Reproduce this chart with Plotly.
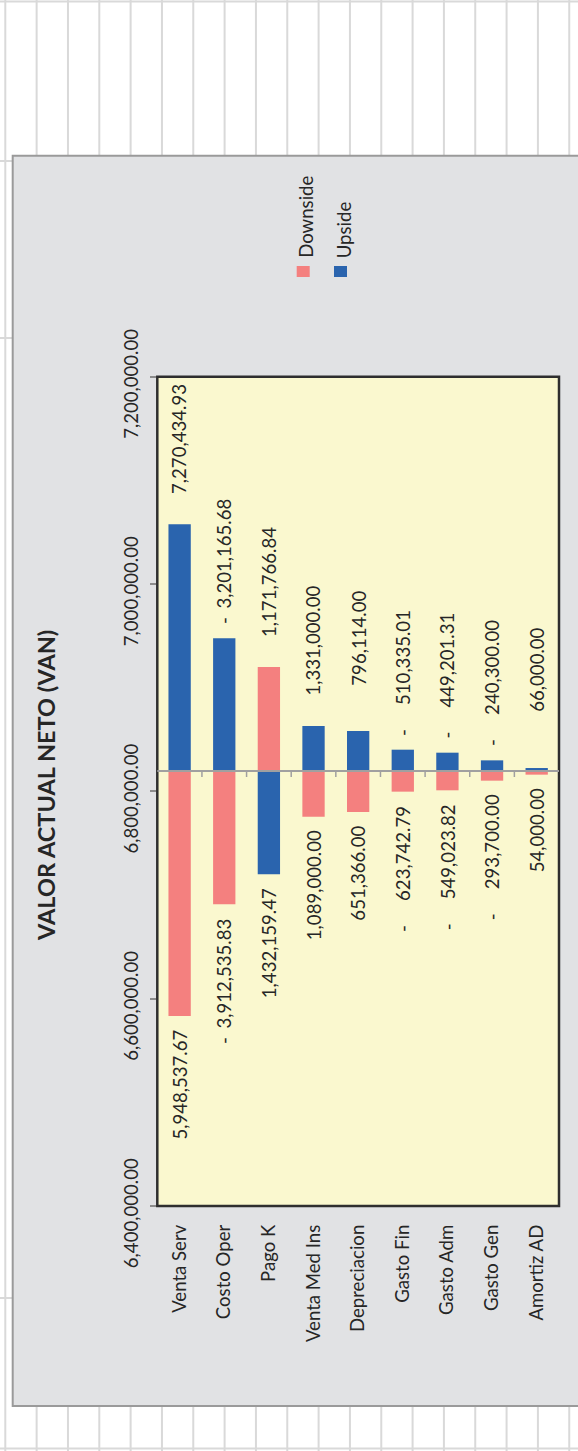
import plotly.graph_objects as go

# ---- data -------------------------------------------------------------
CATEGORIES = ["Venta Serv", "Costo Oper", "Pago K", "Venta Med Ins", "Depreciacion",
              "Gasto Fin", "Gasto Adm", "Gasto Gen", "Amortiz AD"]

# NPV (VAN) at the base case and under each sensitivity scenario
BASE_VAN = 6_819_600
VAN_DOWNSIDE = [6_583_300, 6_691_000, 6_919_900, 6_775_600, 6_780_100,
                6_799_700, 6_801_000, 6_810_300, 6_816_100]
VAN_UPSIDE = [7_057_600, 6_947_600, 6_720_000, 6_863_000, 6_858_200,
              6_840_200, 6_837_300, 6_829_900, 6_822_500]

# input value of each driver in the scenario (shown next to the bar)
INPUT_DOWNSIDE = [5_948_537.67, -3_912_535.83, 1_171_766.84, 1_089_000.00, 651_366.00,
                  -623_742.79, -549_023.82, -293_700.00, 54_000.00]
INPUT_UPSIDE = [7_270_434.93, -3_201_165.68, 1_432_159.47, 1_331_000.00, 796_114.00,
                -510_335.01, -449_201.31, -240_300.00, 66_000.00]

VALUE_TICKS = [6_400_000, 6_600_000, 6_800_000, 7_000_000, 7_200_000]
TITLE = "VALOR ACTUAL NETO (VAN)"

# ---- styling ----------------------------------------------------------
W, H = 578, 1451
FONT = "Lato"
FS = 18.6
TXT = "#262626"
PINK = "#F4807F"
BLUE = "#2A64AE"
PLOT_BG = "#FAF8CF"
CHART_BG = "#E1E2E4"
CELL_LINE = "#D9D9D9"


def px(x):
    return x / W


def py(y):
    return 1 - y / H


fig = go.Figure()

series = [("Downside", VAN_DOWNSIDE, INPUT_DOWNSIDE, PINK),
          ("Upside", VAN_UPSIDE, INPUT_UPSIDE, BLUE)]

for name, van, _, color in series:
    fig.add_trace(go.Bar(
        x=CATEGORIES,
        y=[v - BASE_VAN for v in van],
        base=BASE_VAN,
        name=name,
        marker=dict(color=color, line=dict(width=0)),
        showlegend=False,
        hoverinfo="skip",
    ))

shapes = []

# worksheet cell grid behind the chart
for k in range(19):
    x = 5.3 + 31.33 * k
    shapes.append(dict(type="line", xref="paper", yref="paper",
                       x0=px(x), x1=px(x), y0=0, y1=1,
                       line=dict(color=CELL_LINE, width=2), layer="below"))
for y in [1.5, 161, 338, 1298, 1448.5]:
    shapes.append(dict(type="line", xref="paper", yref="paper",
                       x0=0, x1=1, y0=py(y), y1=py(y),
                       line=dict(color=CELL_LINE, width=2), layer="below"))

# chart area
shapes.append(dict(type="rect", xref="paper", yref="paper",
                   x0=px(12.7), x1=px(640), y0=py(155.7), y1=py(1406),
                   fillcolor=CHART_BG, line=dict(color="#9A9A9A", width=2),
                   layer="below"))

# plot area
shapes.append(dict(type="rect", xref="x domain", yref="y domain",
                   x0=0, x1=1, y0=0, y1=1,
                   fillcolor=PLOT_BG, line=dict(color="#2E2E2E", width=2.5),
                   layer="below"))

# category axis crossing at the base NPV, with boundary ticks
shapes.append(dict(type="line", xref="x domain", yref="y",
                   x0=0, x1=1, y0=BASE_VAN, y1=BASE_VAN,
                   line=dict(color="#A0A0A0", width=2), layer="above"))
for k in range(1, len(CATEGORIES)):
    shapes.append(dict(type="line", xref="x", yref="y", ysizemode="pixel",
                       yanchor=BASE_VAN, x0=k - 0.5, x1=k - 0.5, y0=0, y1=-6,
                       line=dict(color="#A0A0A0", width=1.5), layer="above"))

# legend keys
for (name, _, _, color), x0 in zip(series, [296.7, 334.0]):
    shapes.append(dict(type="rect", xref="paper", yref="paper",
                       x0=px(x0), x1=px(x0 + 13), y0=py(277), y1=py(266),
                       fillcolor=color, line=dict(width=0)))

annotations = []

# title
annotations.append(dict(text=f"<b>{TITLE}</b>", xref="paper", yref="paper",
                        x=px(46), y=py(786), xanchor="center", yanchor="middle",
                        textangle=-90, showarrow=False,
                        font=dict(family=FONT, size=23.5, color=TXT)))

# legend labels
for (name, _, _, _), xc in zip(series, [306.5, 343.5]):
    annotations.append(dict(text=name, xref="paper", yref="paper",
                            x=px(xc), y=py(259.3), xanchor="center", yanchor="bottom",
                            textangle=-90, showarrow=False, borderpad=0,
                            font=dict(family=FONT, size=FS, color=TXT)))

# scenario input values beside each bar (accounting style: sign at the bar side
# for the upper label, number at the bar side for the lower label)
NEAR, FAR = 13, 141
for name, van, inputs, _ in series:
    for cat, v, val in zip(CATEGORIES, van, inputs):
        up = v >= BASE_VAN
        num = f"{abs(val):,.2f}"
        lab = dict(xref="x", yref="y", x=cat, y=v, xanchor="center",
                   textangle=-90, showarrow=False, borderpad=0,
                   font=dict(family=FONT, size=FS, color=TXT))
        if up:
            annotations.append(dict(lab, text=num, yanchor="top", yshift=FAR))
            if val < 0:
                annotations.append(dict(lab, text="-", yanchor="bottom", yshift=NEAR))
        else:
            annotations.append(dict(lab, text=num, yanchor="top", yshift=-NEAR))
            if val < 0:
                annotations.append(dict(lab, text="-", yanchor="bottom", yshift=-FAR))

fig.update_layout(
    width=W, height=H,
    autosize=False,
    margin=dict(l=0, r=0, t=0, b=0, pad=0, autoexpand=False),
    paper_bgcolor="white",
    plot_bgcolor=PLOT_BG,
    barmode="overlay",
    bargap=0.5,
    showlegend=False,
    shapes=shapes,
    annotations=annotations,
    font=dict(family=FONT, size=FS, color=TXT),
    xaxis=dict(
        domain=[px(157.3), px(559)],
        type="category",
        tickangle=-90,
        ticks="",
        automargin=False,
        showline=False, showgrid=False, zeroline=False,
        tickfont=dict(family=FONT, size=FS, color=TXT),
        ticklabelstandoff=14,
        fixedrange=True,
    ),
    yaxis=dict(
        domain=[py(1206), py(376.7)],
        range=[VALUE_TICKS[0], VALUE_TICKS[-1]],
        tickvals=VALUE_TICKS,
        tickformat=",.2f",
        tickangle=-90,
        ticks="outside", ticklen=6, tickwidth=1.5, tickcolor="#8C8C8C",
        ticklabelstandoff=5,
        ticklabelshift=10,
        automargin=False,
        showline=False, showgrid=False, zeroline=False,
        tickfont=dict(family=FONT, size=FS, color=TXT),
        fixedrange=True,
    ),
)

fig.write_html("out.html")
